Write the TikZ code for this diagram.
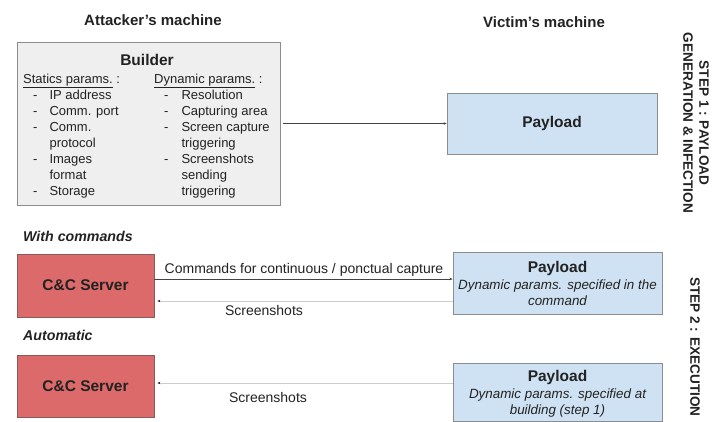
\documentclass[tikz,border=0pt]{standalone}
\usepackage{fontspec}
\setmainfont{Liberation Sans}
\usetikzlibrary{arrows.meta}
\definecolor{ccred}{HTML}{DC6A6A}
\definecolor{ccborder}{HTML}{8A5A5A}
\definecolor{plblue}{HTML}{CFE2F3}
\definecolor{boxgray}{HTML}{EFEFEF}
\definecolor{bordergray}{HTML}{8C8C8C}
\definecolor{txt}{HTML}{222222}
\definecolor{lightline}{HTML}{CCCCCC}
\tikzset{
  box/.style={draw=bordergray, line width=0.8pt, inner sep=0pt, text=txt},
  ccbox/.style={box, fill=ccred, draw=ccborder, font=\fontsize{15.5}{18}\selectfont\bfseries},
  plbox/.style={box, fill=plblue},
  heading/.style={font=\fontsize{15}{18}\selectfont\bfseries, text=txt, inner sep=0pt},
  titlef/.style={font=\fontsize{15.5}{18}\selectfont\bfseries, text=txt, inner sep=0pt},
  body/.style={font=\fontsize{13}{16}\selectfont, text=txt, inner sep=0pt},
  lbl/.style={font=\fontsize{14}{16}\selectfont, text=txt, inner sep=0pt},
  sect/.style={font=\fontsize{14.2}{16}\selectfont\bfseries\itshape, text=txt, anchor=west, inner sep=0pt},
  desc/.style={font=\fontsize{13.4}{16}\selectfont\itshape, text=txt, align=center, inner sep=0pt},
  steptext/.style={font=\fontsize{13.6}{16}\selectfont\bfseries, text=txt, rotate=-90, align=center, inner sep=0pt},
  darkarrow/.style={draw=txt!85, line width=0.6pt, -{Stealth[length=3pt,width=2.5pt]}},
  lightarrow/.style={draw=lightline, line width=1pt, -{Stealth[length=3pt,width=2.5pt,color=txt]}},
}
\begin{document}
\begin{tikzpicture}[x=1pt, y=-1pt]
\useasboundingbox (0,0) rectangle (724,421);
% headings
\node[heading] (att) at (153,20) {Attacker’s machine};
\node[heading] (vic) at (544,22) {Victim’s machine};
% builder
\node[box, fill=boxgray, minimum width=263pt, minimum height=163pt] (builder) at (148.5,123.5) {};
\node[titlef] (bt) at (147,60) {Builder};
\node[body, anchor=north west] (stat) at (23,72) {%
\begin{tabular}{@{\hspace{10pt}}l@{\hspace{12pt}}l@{}}
\multicolumn{2}{@{}l@{}}{\underline{Statics params.} :}\\
- & IP address\\
- & Comm. port\\
- & Comm.\\
  & protocol\\
- & Images\\
  & format\\
- & Storage
\end{tabular}};
\node[body, anchor=north west] (dyn) at (154,72) {%
\begin{tabular}{@{\hspace{10pt}}l@{\hspace{13pt}}l@{}}
\multicolumn{2}{@{}l@{}}{\underline{Dynamic params.} :}\\
- & Resolution\\
- & Capturing area\\
- & Screen capture\\
  & triggering\\
- & Screenshots\\
  & sending\\
  & triggering
\end{tabular}};
% payload 1
\node[plbox, minimum width=210pt, minimum height=61pt, titlef] (pl1) at (552,123.5) {Payload};
\coordinate (bstart) at ([xshift=3pt]builder.east |- pl1.west);
\draw[darkarrow] (bstart) -- (pl1.west);
% step 1
\node[steptext] (s1) at (696,123) {STEP 1 : PAYLOAD\\GENERATION \& INFECTION};
% with commands
\node[sect] (wc) at (23,236) {With commands};
\node[ccbox, minimum width=137pt, minimum height=63pt] (cc1) at (85.5,285.5) {C\&C Server};
\node[plbox, minimum width=209pt, minimum height=62pt] (pl2) at (557.5,283) {};
\node[titlef] (pl2t) at (557.5,268) {Payload};
\node[desc] (pl2d) at (557.5,293) {Dynamic params. specified in the\\command};
\coordinate (c1a) at (cc1.east |- 0,279);
\coordinate (p2a) at (pl2.west |- 0,279);
\draw[darkarrow] (c1a) -- (p2a);
\node[lbl] (cmdl) at (304,270) {Commands for continuous / ponctual capture};
\coordinate (p2b) at (pl2.west |- 0,301);
\coordinate (c1b) at ([xshift=3pt]cc1.east |- 0,301);
\draw[lightarrow] (p2b) -- (c1b);
\node[lbl] (scl1) at (264,310) {Screenshots};
% automatic
\node[sect] (au) at (23,335) {Automatic};
\node[ccbox, minimum width=137pt, minimum height=62pt] (cc2) at (85.5,386) {C\&C Server};
\node[plbox, minimum width=209pt, minimum height=58pt] (pl3) at (557.5,392) {};
\node[titlef] (pl3t) at (557.5,377) {Payload};
\node[desc] (pl3d) at (557.5,403) {Dynamic params. specified at\\building (step 1)};
\coordinate (p3b) at (pl3.west |- 0,383);
\coordinate (c2b) at ([xshift=3pt]cc2.east |- 0,383);
\draw[lightarrow] (p3b) -- (c2b);
\node[lbl] (scl2) at (268,397) {Screenshots};
% step 2
\node[steptext] (s2) at (695,347) {STEP 2 : EXECUTION};
\end{tikzpicture}
\end{document}
